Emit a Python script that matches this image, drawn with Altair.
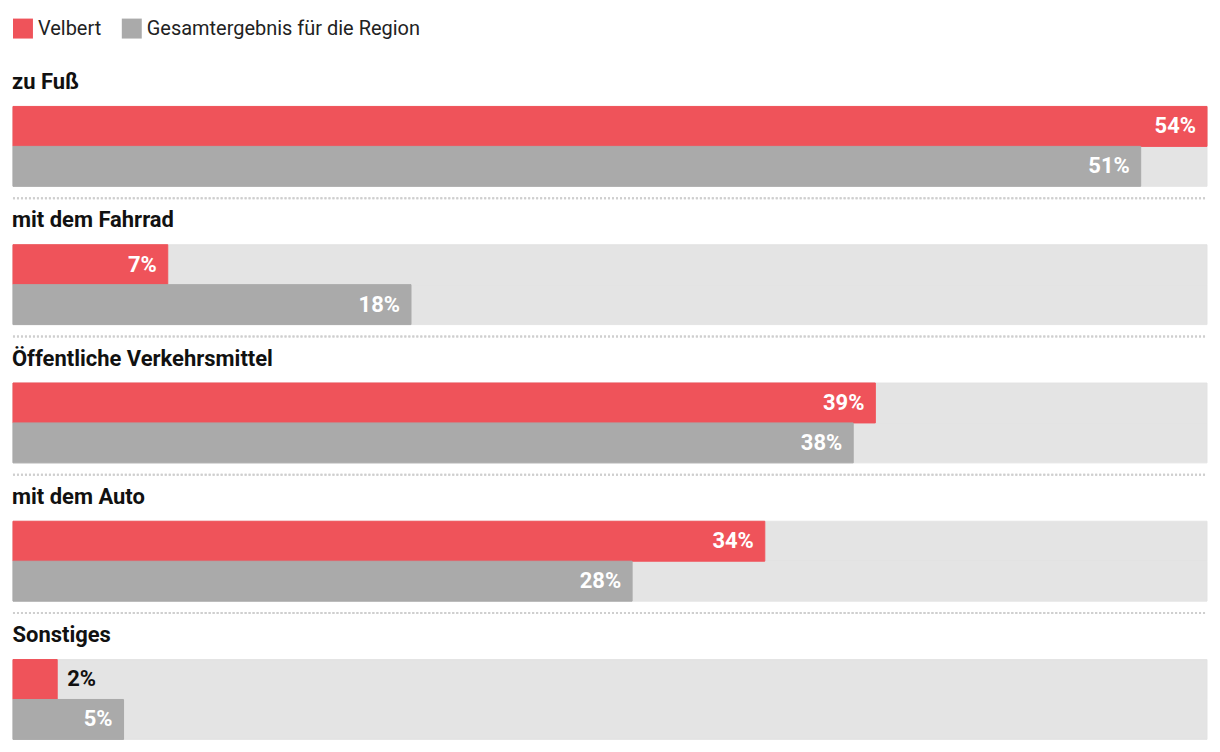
import altair as alt
import pandas as pd

categories = ["zu Fuß", "mit dem Fahrrad", "Öffentliche Verkehrsmittel", "mit dem Auto", "Sonstiges"]
series = ["Velbert", "Gesamtergebnis für die Region"]
velbert = [54, 7, 39, 34, 2]
region = [51, 18, 38, 28, 5]
colors = ["#ef535a", "#aaaaaa"]
max_value = 54

rows = []
for c, v, r in zip(categories, velbert, region):
    rows.append({"cat": c, "series": series[0], "value": v})
    rows.append({"cat": c, "series": series[1], "value": r})
df = pd.DataFrame(rows)
df["label"] = df["value"].astype(str) + "%"
df["max"] = max_value

FONT = "Roboto"
W = 1196

xscale = alt.Scale(domain=[0, max_value], nice=False, zero=True)
y = alt.Y("series:N", sort=series, scale=alt.Scale(domain=series, paddingInner=0, paddingOuter=0), axis=None)
color = alt.Color(
    "series:N",
    sort=series,
    scale=alt.Scale(domain=series, range=colors),
    legend=alt.Legend(
        title=None, orient="none", legendX=0, legendY=-88, direction="horizontal",
        symbolType="square", symbolSize=400, symbolStrokeWidth=0, symbolOpacity=1,
        labelFont=FONT, labelFontSize=20, labelColor="#222", labelOffset=5,
        columnPadding=20, labelLimit=400,
    ),
)


def panel(cat, last):
    d = df[df.cat == cat]
    base = alt.Chart(d)
    bg = base.mark_bar(color="#e4e4e4", stroke="#e4e4e4", strokeWidth=1).encode(
        x=alt.X("max:Q", scale=xscale, axis=None), y=y
    )
    bars = base.mark_bar(opacity=1, strokeWidth=1).encode(
        x=alt.X("value:Q", scale=xscale, axis=None), y=y, color=color,
        stroke=alt.Stroke("series:N", sort=series, scale=alt.Scale(domain=series, range=colors), legend=None),
    )
    inside = base.transform_filter("datum.value >= 4").mark_text(
        align="right", baseline="middle", dx=-11, color="white", font=FONT,
        fontWeight="bold", fontSize=22
    ).encode(x=alt.X("value:Q", scale=xscale, axis=None), y=y, text="label:N")
    outside = base.transform_filter("datum.value < 4").mark_text(
        align="left", baseline="middle", dx=10, color="#111", font=FONT,
        fontWeight="bold", fontSize=22
    ).encode(x=alt.X("value:Q", scale=xscale, axis=None), y=y, text="label:N")
    layers = [bg, bars, inside, outside]
    if not last:
        sep = base.mark_rule(color="#cfcfcf", strokeDash=[2, 2], strokeWidth=2).encode(
            x=alt.value(0), x2=alt.value(W), y=alt.value(92)
        )
        layers.append(sep)
    return alt.layer(*layers).properties(
        width=W, height=80,
        title=alt.TitleParams(cat, anchor="start", font=FONT, fontSize=22,
                              fontWeight="bold", color="#111", offset=12),
    )


panels = [panel(c, i == len(categories) - 1) for i, c in enumerate(categories)]
chart = alt.vconcat(*panels, spacing=9.5).properties(
    padding={"left": 12, "right": 12, "top": 18, "bottom": 10}
).configure_view(stroke=None).configure_concat(spacing=9.5)

chart.save("out.html", embed_options={"renderer": "svg", "actions": False})
